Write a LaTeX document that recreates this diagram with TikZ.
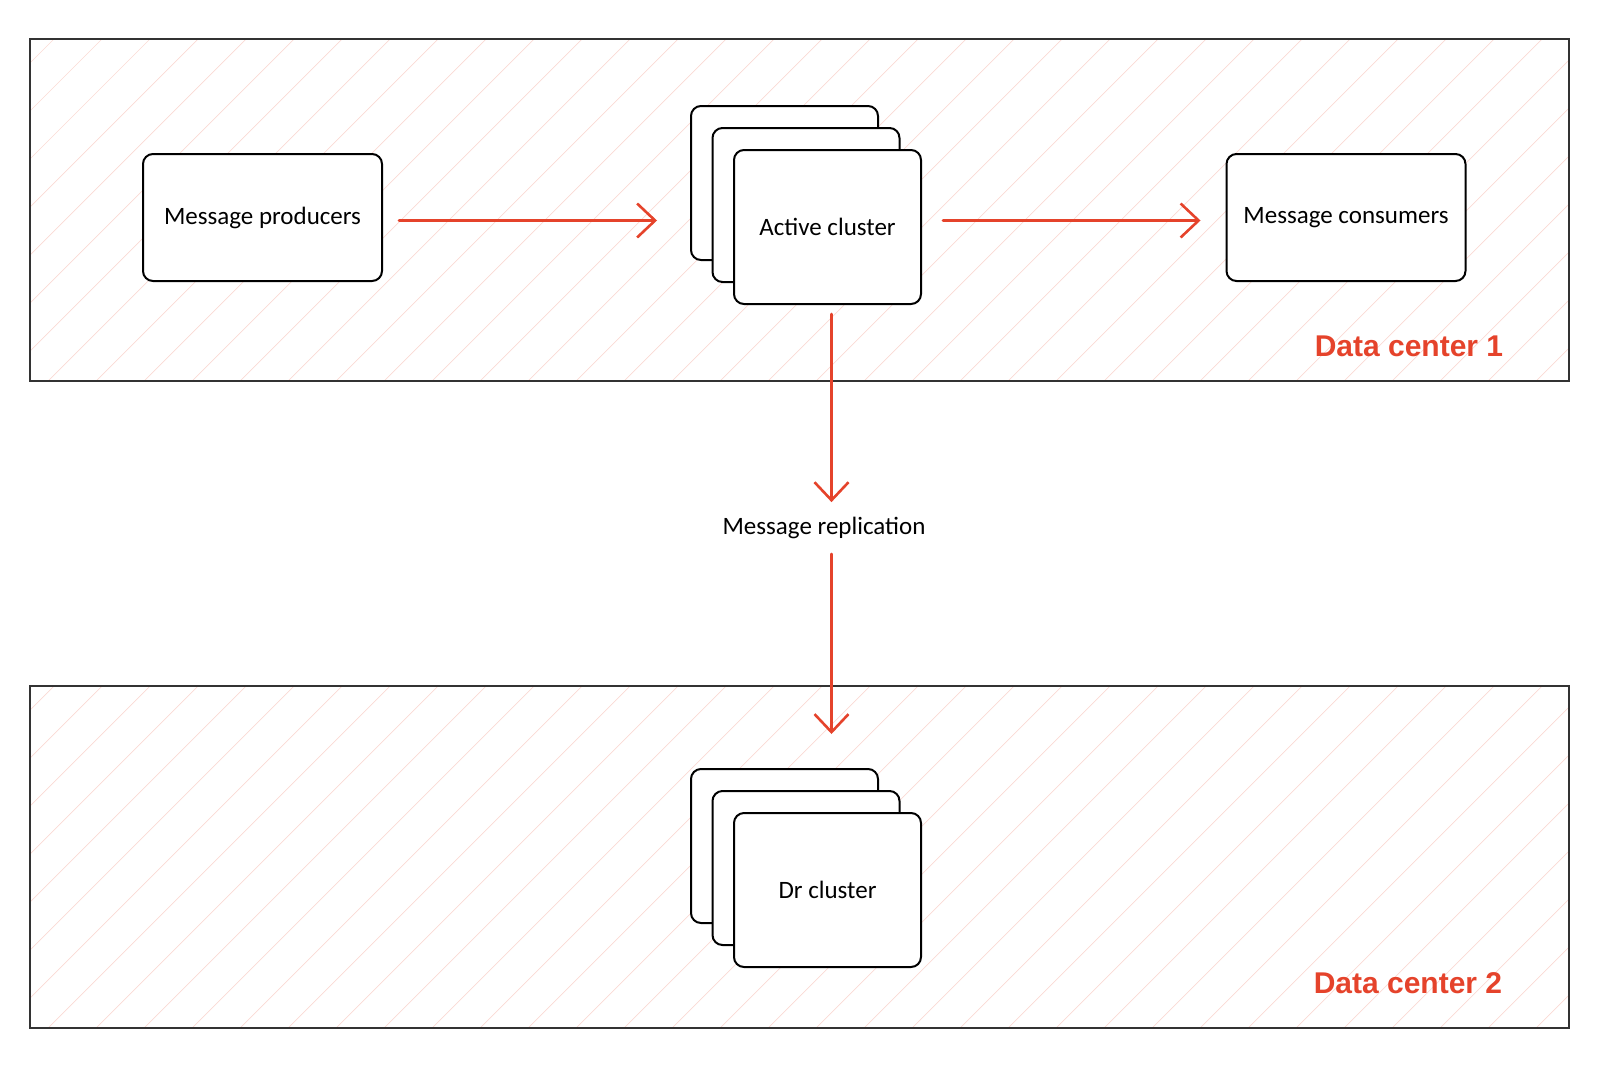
\documentclass[tikz,border=0pt]{standalone}
\usepackage{fontspec}
\setmainfont{Carlito}
\newfontfamily\dcfont{Liberation Sans}
\usetikzlibrary{arrows.meta}
\definecolor{dcred}{HTML}{E5432B}
\definecolor{hatchpink}{HTML}{FADAD4}
\definecolor{framegray}{HTML}{333333}
\tikzset{
  card/.style={draw=black, line width=1pt, fill=white, rounded corners=5pt,
    minimum width=93.5pt, minimum height=77pt, inner sep=0pt},
  endpoint/.style={draw=black, line width=1pt, fill=white, rounded corners=5pt,
    minimum width=119.5pt, minimum height=63.5pt, inner sep=0pt},
  flow/.style={draw=dcred, line width=1.3pt, line cap=round,
    -{Straight Barb[length=9pt, width=17pt, line width=1.3pt]}},
  hatch/.style={draw=hatchpink, line width=0.35pt},
  dcframe/.style={draw=framegray, line width=0.7pt},
  dclabel/.style={font=\dcfont\bfseries\fontsize{15}{18}\selectfont, text=dcred}
}
\begin{document}
\begin{tikzpicture}[x=0.5pt, y=-0.5pt, font=\fontsize{12.5}{15}\selectfont]
  \useasboundingbox (0,0) rectangle (1600,1066);
  % data center areas with hatching
  \foreach \top/\bot in {39/381, 686/1028}{
    \begin{scope}
      \clip (30,\top) rectangle (1569,\bot);
      \foreach \i in {-8,...,33}
        \draw[hatch] (\i*48,\bot) -- ++(400,-400);
    \end{scope}
    \draw[dcframe] (30,\top) rectangle (1569,\bot);
  }
  \node[dclabel] (dc1) at (1409,346) {Data center 1};
  \node[dclabel] (dc2) at (1408,983) {Data center 2};

  % endpoints
  \node[endpoint] (prod) at (262.5,217.5) {Message producers};
  \node[endpoint] (cons) at (1346,217.5) {Message consumers};

  % stacked clusters
  \coordinate (actc) at (827.5,227);
  \coordinate (drc) at (827.5,890);
  \node[card] (act3) at ([shift={(-43,-44)}]actc) {};
  \node[card] (act2) at ([shift={(-21.5,-22)}]actc) {};
  \node[card] (act) at (actc) {Active cluster};
  \node[card] (dr3) at ([shift={(-43,-44)}]drc) {};
  \node[card] (dr2) at ([shift={(-21.5,-22)}]drc) {};
  \node[card] (dr) at (drc) {Dr cluster};

  \node (rep) at (824,528) {Message replication};

  % flows
  \draw[flow, shorten <=8pt, shorten >=16.5pt] ([yshift=-1.5pt]prod.east) -- ([yshift=-1.5pt]prod.east -| act3.west);
  \draw[flow, shorten <=10.5pt, shorten >=12.5pt] ([yshift=-1.5pt]act.east |- cons.west) -- ([yshift=-1.5pt]cons.west);
  \draw[flow, shorten <=4.5pt, shorten >=4pt] ([xshift=2pt]act.south) -- ([xshift=2pt]act.south |- rep.north);
  \draw[flow, shorten <=4pt, shorten >=17pt] ([xshift=2pt]act.south |- rep.south) -- ([xshift=2pt]act.south |- dr3.north);
\end{tikzpicture}
\end{document}
